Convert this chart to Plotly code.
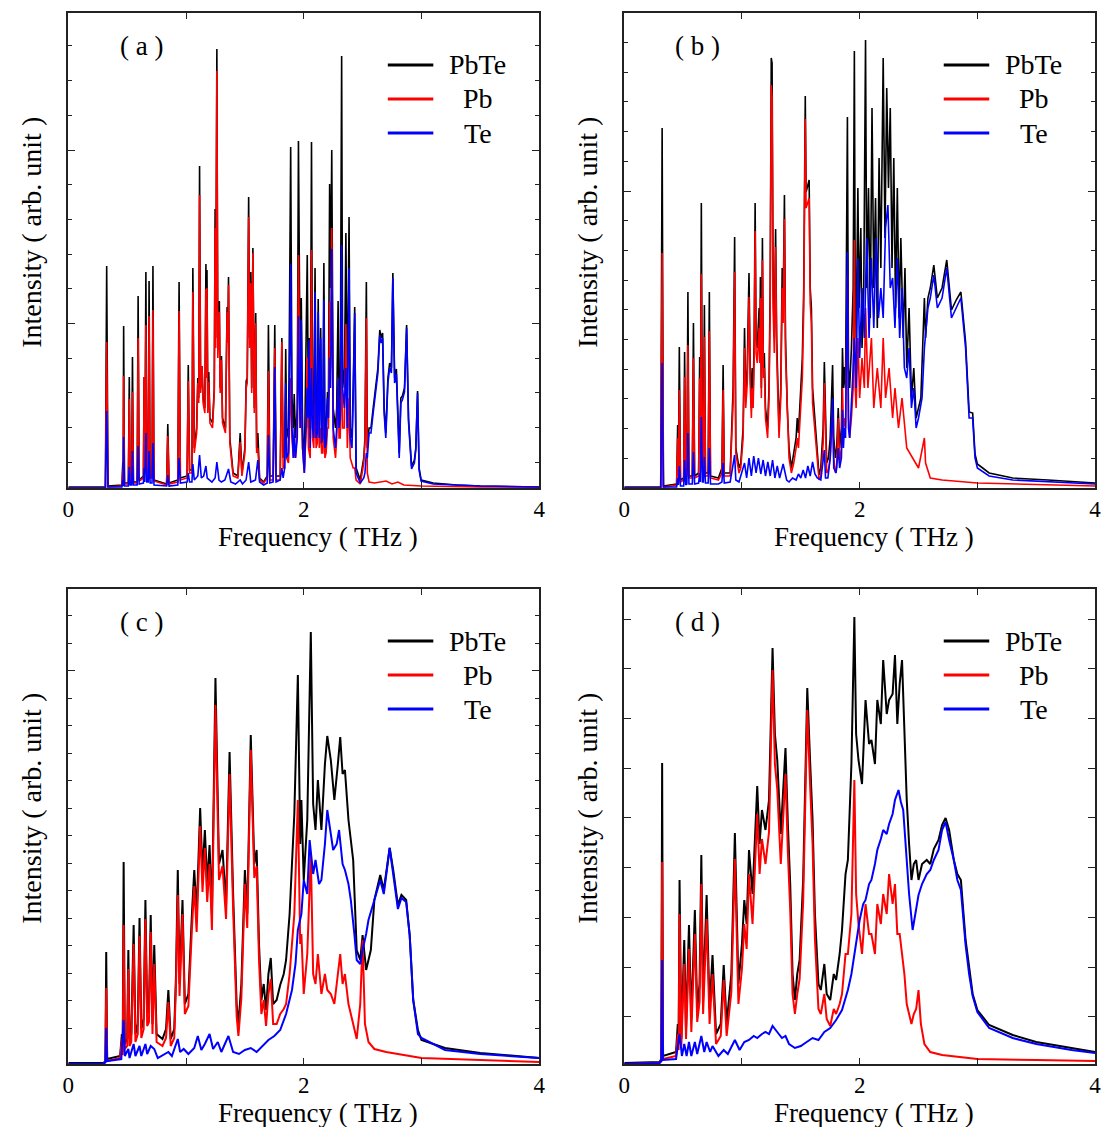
import plotly.graph_objects as go

W, H = 1108, 1127
SERIES = ["PbTe", "Pb", "Te"]
COLORS = ["#000000", "#ff0000", "#0000ff"]
PANELS = ["( a )", "( b )", "( c )", "( d )"]
X_TICKS = [0, 1, 2, 3, 4]
X_TICK_TEXT = ["0", "", "2", "", "4"]
X_TITLE = "Frequency ( THz )"
Y_TITLE = "Intensity ( arb. unit )"

# ---- panel (a): (frequency THz, intensity arb.) vertices
A_PBTE = [(0,1),(0.315,1),(0.326,222),(0.337,2),(0.455,3),(0.463,26),(0.466,5),(0.47,162),(0.477,5),(0.51,5),(0.518,111),(0.525,6),(0.538,8),(0.545,131),(0.553,6),(0.585,6),(0.593,192),(0.602,8),(0.638,12),(0.644,111),(0.65,20),(0.659,216),(0.667,15),(0.679,15),(0.686,207),(0.695,12),(0.711,12),(0.719,222),(0.728,8),(0.835,4),(0.845,64),(0.856,5),(0.93,8),(0.941,206),(0.952,10),(1.009,12),(1.019,123),(1.03,18),(1.05,18),(1.058,220),(1.07,40),(1.09,60),(1.1,110),(1.108,90),(1.115,322),(1.124,100),(1.136,122),(1.145,90),(1.16,80),(1.169,224),(1.174,120),(1.178,218),(1.185,80),(1.193,116),(1.203,70),(1.225,65),(1.24,100),(1.247,279),(1.252,150),(1.262,439),(1.27,140),(1.283,187),(1.29,100),(1.301,132),(1.31,70),(1.335,60),(1.349,181),(1.355,150),(1.361,211),(1.372,50),(1.4,15),(1.44,12),(1.46,55),(1.475,15),(1.5,40),(1.511,107),(1.52,110),(1.532,291),(1.54,150),(1.55,216),(1.558,100),(1.568,240),(1.58,80),(1.592,175),(1.6,40),(1.61,55),(1.625,10),(1.66,6),(1.69,12),(1.7,163),(1.712,12),(1.74,12),(1.754,163),(1.765,12),(1.8,12),(1.814,150),(1.825,30),(1.838,40),(1.847,139),(1.855,50),(1.87,60),(1.875,110),(1.889,341),(1.9,90),(1.912,60),(1.919,94),(1.93,50),(1.945,80),(1.955,347),(1.962,210),(1.97,100),(1.979,190),(1.99,60),(2.005,20),(2.021,171),(2.03,233),(2.04,60),(2.045,150),(2.055,50),(2.066,346),(2.075,80),(2.085,60),(2.096,220),(2.105,70),(2.115,70),(2.123,189),(2.132,60),(2.144,160),(2.152,60),(2.162,60),(2.171,225),(2.18,50),(2.19,60),(2.202,96),(2.21,90),(2.22,304),(2.228,200),(2.238,338),(2.25,80),(2.27,60),(2.28,80),(2.292,187),(2.3,80),(2.31,90),(2.322,432),(2.33,120),(2.345,100),(2.358,255),(2.37,80),(2.385,271),(2.395,60),(2.41,50),(2.42,100),(2.433,181),(2.445,20),(2.48,8),(2.51,30),(2.52,50),(2.532,206),(2.54,40),(2.555,60),(2.571,60),(2.59,80),(2.607,100),(2.63,120),(2.646,158),(2.658,150),(2.67,155),(2.683,80),(2.697,55),(2.715,110),(2.73,125),(2.745,120),(2.757,215),(2.772,110),(2.787,119),(2.8,70),(2.811,35),(2.825,90),(2.838,92),(2.856,100),(2.874,163),(2.89,70),(2.916,22),(2.94,28),(2.952,40),(2.967,97),(2.98,20),(2.997,8),(3.1,5),(3.3,3),(3.5,2),(4,1)]
A_PB = [(0,0),(0.315,0),(0.326,146),(0.337,1),(0.455,2),(0.463,18),(0.466,4),(0.47,112),(0.477,4),(0.51,4),(0.518,89),(0.525,5),(0.538,7),(0.545,96),(0.553,5),(0.585,5),(0.593,150),(0.602,7),(0.638,10),(0.644,111),(0.65,18),(0.659,163),(0.667,12),(0.679,12),(0.686,172),(0.695,10),(0.711,10),(0.719,178),(0.728,7),(0.835,3),(0.845,52),(0.856,4),(0.93,6),(0.941,177),(0.952,8),(1.009,10),(1.019,107),(1.03,15),(1.05,15),(1.058,196),(1.07,35),(1.09,55),(1.1,105),(1.108,85),(1.115,293),(1.124,95),(1.136,122),(1.145,85),(1.16,75),(1.169,199),(1.174,110),(1.178,200),(1.185,75),(1.193,106),(1.203,65),(1.225,60),(1.24,95),(1.247,260),(1.252,140),(1.262,417),(1.27,130),(1.283,176),(1.29,95),(1.301,128),(1.31,65),(1.335,55),(1.349,176),(1.355,145),(1.361,203),(1.372,45),(1.4,12),(1.44,10),(1.46,46),(1.475,12),(1.5,35),(1.511,100),(1.52,105),(1.532,271),(1.54,140),(1.55,205),(1.558,95),(1.568,235),(1.58,75),(1.592,165),(1.6,35),(1.61,40),(1.625,8),(1.66,5),(1.69,10),(1.7,117),(1.712,8),(1.74,8),(1.754,140),(1.765,8),(1.8,8),(1.814,146),(1.825,20),(1.838,20),(1.847,85),(1.855,30),(1.87,25),(1.875,40),(1.889,110),(1.9,50),(1.912,30),(1.919,40),(1.93,30),(1.945,60),(1.955,233),(1.962,150),(1.97,60),(1.979,80),(1.99,40),(2.005,15),(2.021,60),(2.03,130),(2.04,40),(2.055,30),(2.066,238),(2.075,50),(2.085,40),(2.096,100),(2.105,40),(2.115,45),(2.123,110),(2.132,40),(2.144,60),(2.152,35),(2.162,35),(2.171,80),(2.18,30),(2.19,35),(2.202,60),(2.21,60),(2.22,186),(2.228,120),(2.238,260),(2.25,50),(2.27,30),(2.28,50),(2.292,110),(2.3,50),(2.31,50),(2.322,130),(2.33,60),(2.345,60),(2.358,164),(2.37,40),(2.385,90),(2.395,30),(2.41,25),(2.42,20),(2.433,20),(2.445,8),(2.48,4),(2.51,25),(2.52,45),(2.532,170),(2.54,15),(2.555,6),(2.6,5),(2.7,7),(2.75,4),(2.8,6),(2.85,3),(3,2),(3.5,1),(4,1)]
A_TE = [(0,0),(0.315,0),(0.326,77),(0.337,1),(0.455,1),(0.463,8),(0.466,2),(0.47,51),(0.477,2),(0.51,2),(0.518,21),(0.525,3),(0.538,3),(0.545,37),(0.553,3),(0.585,3),(0.593,42),(0.602,4),(0.638,5),(0.644,20),(0.65,6),(0.659,55),(0.667,6),(0.679,6),(0.686,37),(0.695,5),(0.711,5),(0.719,45),(0.728,3),(0.835,2),(0.845,13),(0.856,2),(0.93,3),(0.941,30),(0.952,5),(1.009,6),(1.019,15),(1.03,6),(1.05,6),(1.058,24),(1.07,8),(1.1,12),(1.115,33),(1.13,10),(1.15,12),(1.169,22),(1.18,10),(1.2,8),(1.22,6),(1.247,10),(1.262,26),(1.28,8),(1.3,6),(1.33,8),(1.361,19),(1.38,6),(1.42,4),(1.46,8),(1.48,4),(1.51,8),(1.532,26),(1.55,6),(1.59,8),(1.61,28),(1.625,6),(1.66,3),(1.69,5),(1.7,53),(1.712,5),(1.74,6),(1.754,121),(1.765,6),(1.8,8),(1.814,20),(1.825,10),(1.838,20),(1.847,105),(1.855,30),(1.87,35),(1.875,60),(1.889,224),(1.9,60),(1.912,30),(1.919,60),(1.93,30),(1.945,50),(1.955,172),(1.962,100),(1.97,60),(1.979,168),(1.99,40),(2.005,15),(2.021,60),(2.03,100),(2.037,70),(2.045,148),(2.055,40),(2.066,120),(2.075,60),(2.085,50),(2.096,196),(2.105,50),(2.115,55),(2.123,176),(2.132,50),(2.144,150),(2.152,45),(2.162,50),(2.171,188),(2.18,40),(2.19,45),(2.202,90),(2.21,70),(2.22,130),(2.228,100),(2.238,239),(2.25,60),(2.27,40),(2.28,60),(2.292,110),(2.3,60),(2.31,70),(2.322,243),(2.33,100),(2.345,80),(2.358,120),(2.37,60),(2.385,220),(2.395,50),(2.41,40),(2.42,90),(2.433,175),(2.445,15),(2.48,5),(2.51,10),(2.52,15),(2.532,35),(2.54,30),(2.555,55),(2.571,55),(2.59,75),(2.607,95),(2.63,115),(2.646,153),(2.658,145),(2.67,150),(2.683,75),(2.697,50),(2.715,105),(2.73,120),(2.745,115),(2.757,210),(2.772,105),(2.787,114),(2.8,65),(2.811,30),(2.825,85),(2.838,88),(2.856,96),(2.874,160),(2.89,66),(2.916,19),(2.94,25),(2.952,38),(2.967,95),(2.98,18),(2.997,7),(3.1,4),(3.3,3),(3.5,2),(4,1)]

# ---- panel (b)
B_PBTE = [(0,1),(0.31,1),(0.322,360),(0.333,2),(0.445,4),(0.454,63),(0.46,15),(0.468,141),(0.478,8),(0.505,10),(0.513,136),(0.522,12),(0.532,15),(0.541,196),(0.55,12),(0.578,12),(0.588,165),(0.598,12),(0.632,15),(0.641,131),(0.647,40),(0.655,285),(0.665,20),(0.672,20),(0.681,183),(0.69,15),(0.713,15),(0.723,196),(0.733,12),(0.8,10),(0.83,20),(0.84,123),(0.85,15),(0.9,15),(0.925,100),(0.93,158),(0.938,251),(0.948,40),(0.975,20),(0.99,25),(1.01,60),(1.022,160),(1.032,90),(1.045,120),(1.06,215),(1.07,120),(1.08,80),(1.087,120),(1.095,90),(1.104,150),(1.112,285),(1.12,150),(1.13,140),(1.146,180),(1.152,140),(1.157,211),(1.165,100),(1.174,250),(1.182,120),(1.19,135),(1.2,80),(1.218,60),(1.23,100),(1.24,200),(1.249,430),(1.256,425),(1.265,200),(1.275,150),(1.286,259),(1.295,150),(1.305,90),(1.315,60),(1.33,100),(1.342,220),(1.35,180),(1.361,293),(1.37,150),(1.385,80),(1.4,40),(1.42,20),(1.44,35),(1.46,50),(1.47,70),(1.48,55),(1.5,100),(1.513,130),(1.525,200),(1.538,392),(1.545,296),(1.555,300),(1.571,308),(1.58,200),(1.59,180),(1.6,100),(1.625,60),(1.64,30),(1.655,13),(1.67,20),(1.69,60),(1.7,126),(1.71,60),(1.72,25),(1.735,30),(1.75,50),(1.77,123),(1.78,50),(1.795,30),(1.805,40),(1.818,80),(1.83,40),(1.845,60),(1.854,140),(1.862,100),(1.87,121),(1.88,100),(1.896,371),(1.905,120),(1.915,100),(1.93,140),(1.945,200),(1.955,437),(1.962,200),(1.97,150),(1.985,300),(1.995,180),(2.01,260),(2.02,140),(2.035,200),(2.05,448),(2.06,200),(2.075,300),(2.09,170),(2.105,380),(2.12,200),(2.135,290),(2.15,160),(2.165,330),(2.18,220),(2.2,430),(2.215,250),(2.23,400),(2.245,300),(2.26,380),(2.275,220),(2.29,330),(2.305,180),(2.32,300),(2.335,170),(2.35,250),(2.37,150),(2.385,220),(2.4,120),(2.42,180),(2.44,90),(2.46,120),(2.48,70),(2.5,80),(2.52,90),(2.55,190),(2.56,150),(2.58,190),(2.6,200),(2.63,223),(2.66,190),(2.7,200),(2.74,228),(2.78,178),(2.82,188),(2.86,196),(2.9,146),(2.93,76),(2.96,75),(2.98,34),(3,24),(3.1,15),(3.3,10),(3.6,8),(4,5)]
B_PB = [(0,0),(0.31,0),(0.322,235),(0.333,1),(0.445,3),(0.454,50),(0.46,12),(0.468,98),(0.478,6),(0.505,8),(0.513,111),(0.522,10),(0.532,12),(0.541,143),(0.55,10),(0.578,10),(0.588,130),(0.598,10),(0.632,12),(0.641,110),(0.647,35),(0.655,214),(0.665,16),(0.672,16),(0.681,151),(0.69,12),(0.713,12),(0.723,157),(0.733,10),(0.8,8),(0.83,15),(0.84,98),(0.85,12),(0.9,12),(0.925,85),(0.93,130),(0.938,216),(0.948,35),(0.975,15),(0.99,20),(1.01,50),(1.022,140),(1.032,80),(1.045,105),(1.06,191),(1.07,105),(1.08,70),(1.087,100),(1.095,80),(1.104,130),(1.112,257),(1.12,135),(1.13,125),(1.146,160),(1.152,125),(1.157,190),(1.165,90),(1.174,228),(1.182,110),(1.19,120),(1.2,70),(1.218,50),(1.23,90),(1.24,180),(1.249,403),(1.256,390),(1.265,180),(1.275,135),(1.286,241),(1.295,135),(1.305,80),(1.315,50),(1.33,90),(1.342,200),(1.35,165),(1.361,269),(1.37,135),(1.385,70),(1.4,30),(1.42,15),(1.44,25),(1.46,40),(1.47,50),(1.48,40),(1.5,85),(1.513,110),(1.525,180),(1.538,369),(1.545,280),(1.555,285),(1.571,290),(1.58,185),(1.59,165),(1.6,85),(1.625,50),(1.64,22),(1.655,8),(1.67,12),(1.69,45),(1.7,105),(1.71,45),(1.72,15),(1.735,18),(1.75,30),(1.77,75),(1.78,30),(1.795,15),(1.805,20),(1.818,70),(1.83,25),(1.845,40),(1.854,100),(1.862,60),(1.87,70),(1.88,60),(1.896,213),(1.905,70),(1.915,50),(1.93,70),(1.945,100),(1.955,248),(1.962,100),(1.97,80),(1.985,150),(2,90),(2.02,130),(2.04,100),(2.05,180),(2.07,100),(2.1,150),(2.12,80),(2.15,120),(2.18,80),(2.2,150),(2.22,90),(2.25,120),(2.28,70),(2.3,100),(2.33,60),(2.36,90),(2.4,40),(2.45,30),(2.5,20),(2.55,50),(2.56,25),(2.6,10),(2.7,8),(3,5),(4,2)]
B_TE = [(0,0),(0.31,0),(0.322,125),(0.333,1),(0.445,1),(0.454,10),(0.46,3),(0.468,22),(0.478,2),(0.505,2),(0.513,28),(0.522,3),(0.532,4),(0.541,55),(0.55,4),(0.578,4),(0.588,36),(0.598,4),(0.632,5),(0.641,15),(0.647,6),(0.655,71),(0.665,6),(0.672,6),(0.681,31),(0.69,5),(0.713,5),(0.723,40),(0.733,4),(0.8,4),(0.83,6),(0.84,25),(0.85,5),(0.9,6),(0.938,33),(0.948,8),(0.975,6),(1.022,25),(1.04,10),(1.06,30),(1.08,12),(1.1,32),(1.12,15),(1.14,30),(1.16,14),(1.18,28),(1.2,12),(1.22,26),(1.24,12),(1.26,28),(1.28,10),(1.3,22),(1.32,10),(1.35,24),(1.38,8),(1.4,6),(1.43,10),(1.46,8),(1.48,14),(1.5,10),(1.52,18),(1.54,10),(1.56,22),(1.58,12),(1.6,26),(1.62,14),(1.64,10),(1.67,8),(1.7,38),(1.71,10),(1.73,10),(1.75,30),(1.77,90),(1.78,20),(1.8,15),(1.818,40),(1.83,20),(1.845,30),(1.854,78),(1.862,40),(1.87,60),(1.88,50),(1.896,236),(1.905,60),(1.915,50),(1.93,80),(1.945,120),(1.955,150),(1.97,100),(1.985,230),(2,130),(2.02,200),(2.04,150),(2.06,250),(2.08,150),(2.1,230),(2.12,160),(2.14,250),(2.16,170),(2.18,200),(2.2,170),(2.22,260),(2.24,283),(2.26,200),(2.28,210),(2.3,160),(2.32,230),(2.34,150),(2.36,200),(2.38,120),(2.4,110),(2.42,140),(2.44,80),(2.46,100),(2.48,60),(2.5,70),(2.53,90),(2.55,140),(2.58,180),(2.6,190),(2.63,213),(2.66,180),(2.7,190),(2.74,220),(2.78,170),(2.82,180),(2.86,190),(2.9,140),(2.93,70),(2.96,70),(2.98,30),(3,20),(3.1,12),(3.3,8),(3.6,6),(4,4)]

# ---- panel (c)
C_PBTE = [(0,1),(0.3,1),(0.315,3),(0.322,112),(0.33,5),(0.44,8),(0.455,30),(0.462,12),(0.47,202),(0.48,20),(0.5,25),(0.51,114),(0.52,25),(0.535,30),(0.555,139),(0.57,30),(0.59,40),(0.605,146),(0.62,35),(0.64,45),(0.655,164),(0.67,50),(0.685,55),(0.7,149),(0.715,40),(0.73,119),(0.75,30),(0.8,25),(0.83,35),(0.85,74),(0.87,25),(0.9,35),(0.915,90),(0.93,194),(0.945,80),(0.97,164),(0.99,60),(1.02,70),(1.05,150),(1.07,194),(1.09,150),(1.12,256),(1.14,190),(1.16,234),(1.18,180),(1.2,219),(1.22,150),(1.25,386),(1.28,200),(1.31,214),(1.34,160),(1.37,312),(1.4,170),(1.43,60),(1.445,39),(1.47,80),(1.5,194),(1.52,150),(1.55,329),(1.58,200),(1.6,214),(1.62,120),(1.64,64),(1.66,80),(1.68,54),(1.7,90),(1.72,106),(1.74,60),(1.77,64),(1.8,79),(1.83,90),(1.85,104),(1.88,150),(1.9,194),(1.92,250),(1.95,389),(1.97,220),(1.98,264),(2,184),(2.03,244),(2.06,432),(2.08,260),(2.1,234),(2.12,284),(2.15,234),(2.18,300),(2.2,328),(2.23,304),(2.26,264),(2.29,300),(2.31,327),(2.33,290),(2.35,294),(2.38,244),(2.42,204),(2.45,114),(2.48,104),(2.5,129),(2.53,94),(2.57,114),(2.6,164),(2.65,189),(2.68,174),(2.73,216),(2.76,194),(2.8,159),(2.83,169),(2.87,164),(2.9,129),(2.93,64),(2.97,34),(3,24),(3.2,16),(3.5,11),(4,6)]
C_PB = [(0,0),(0.3,0),(0.315,2),(0.322,76),(0.33,3),(0.44,6),(0.455,25),(0.462,9),(0.47,139),(0.48,15),(0.5,18),(0.51,95),(0.52,18),(0.535,22),(0.555,120),(0.57,22),(0.59,30),(0.605,128),(0.62,26),(0.64,35),(0.655,145),(0.67,38),(0.685,42),(0.7,132),(0.715,30),(0.73,100),(0.75,22),(0.8,18),(0.83,26),(0.85,62),(0.87,18),(0.9,26),(0.915,80),(0.93,169),(0.945,68),(0.97,150),(0.99,50),(1.02,58),(1.05,135),(1.07,178),(1.09,132),(1.12,238),(1.14,172),(1.16,216),(1.18,162),(1.2,200),(1.22,134),(1.25,359),(1.28,184),(1.31,198),(1.34,145),(1.37,290),(1.4,155),(1.43,48),(1.445,28),(1.47,66),(1.5,180),(1.52,136),(1.55,314),(1.58,186),(1.6,198),(1.62,104),(1.64,50),(1.66,64),(1.68,38),(1.7,70),(1.72,85),(1.74,40),(1.77,40),(1.8,50),(1.83,55),(1.85,60),(1.88,90),(1.9,120),(1.92,150),(1.95,264),(1.97,120),(1.98,130),(2,70),(2.03,110),(2.06,210),(2.08,90),(2.1,80),(2.12,110),(2.15,70),(2.18,90),(2.2,74),(2.23,70),(2.26,60),(2.29,90),(2.31,110),(2.33,80),(2.35,90),(2.38,60),(2.42,40),(2.45,25),(2.48,60),(2.5,124),(2.52,40),(2.55,22),(2.6,15),(2.7,12),(2.9,8),(3,6),(3.5,4),(4,2)]
C_TE = [(0,0),(0.3,0),(0.315,2),(0.322,36),(0.33,3),(0.45,5),(0.47,44),(0.48,8),(0.51,15),(0.52,6),(0.555,20),(0.57,8),(0.605,18),(0.62,8),(0.655,20),(0.67,10),(0.7,18),(0.73,15),(0.76,6),(0.85,12),(0.88,8),(0.93,25),(0.95,12),(0.98,15),(1.02,10),(1.07,16),(1.1,28),(1.13,14),(1.16,20),(1.2,30),(1.23,15),(1.27,22),(1.3,12),(1.36,28),(1.4,12),(1.45,10),(1.5,14),(1.55,16),(1.6,12),(1.65,18),(1.7,24),(1.75,28),(1.8,34),(1.85,50),(1.9,74),(1.93,100),(1.95,134),(1.98,150),(2,184),(2.03,170),(2.05,224),(2.08,190),(2.1,204),(2.13,180),(2.15,184),(2.18,220),(2.2,254),(2.23,230),(2.25,214),(2.28,220),(2.3,234),(2.33,200),(2.35,194),(2.38,180),(2.4,164),(2.43,130),(2.45,104),(2.48,100),(2.5,114),(2.53,130),(2.55,144),(2.6,164),(2.65,184),(2.68,170),(2.73,216),(2.76,190),(2.8,155),(2.83,166),(2.87,162),(2.9,129),(2.93,64),(2.97,30),(3,26),(3.2,14),(3.5,10),(4,6)]

# ---- panel (d)
D_PBTE = [(0,1),(0.3,2),(0.315,5),(0.322,301),(0.33,8),(0.44,12),(0.455,40),(0.462,20),(0.47,184),(0.485,25),(0.51,124),(0.525,35),(0.55,139),(0.57,45),(0.6,154),(0.62,55),(0.64,80),(0.655,209),(0.67,65),(0.7,169),(0.725,55),(0.75,109),(0.78,30),(0.82,40),(0.845,99),(0.87,40),(0.91,90),(0.94,231),(0.97,80),(1,120),(1.02,164),(1.04,140),(1.06,214),(1.09,170),(1.13,278),(1.15,220),(1.17,254),(1.2,234),(1.23,264),(1.26,416),(1.28,330),(1.3,304),(1.33,230),(1.37,316),(1.39,240),(1.41,180),(1.43,90),(1.45,64),(1.47,90),(1.49,104),(1.52,184),(1.555,376),(1.58,300),(1.6,244),(1.62,150),(1.65,80),(1.67,74),(1.7,100),(1.72,70),(1.75,64),(1.78,90),(1.8,84),(1.83,110),(1.85,134),(1.88,190),(1.9,204),(1.93,300),(1.955,447),(1.97,330),(1.99,304),(2.02,280),(2.05,364),(2.08,320),(2.1,324),(2.13,300),(2.15,364),(2.18,340),(2.2,404),(2.23,350),(2.25,364),(2.28,370),(2.3,409),(2.32,340),(2.34,380),(2.36,404),(2.38,330),(2.4,264),(2.42,220),(2.44,184),(2.46,200),(2.48,204),(2.5,184),(2.53,200),(2.57,204),(2.6,200),(2.63,215),(2.67,224),(2.7,239),(2.73,246),(2.76,234),(2.8,204),(2.83,190),(2.86,184),(2.9,124),(2.93,94),(2.96,70),(3,54),(3.1,39),(3.3,29),(3.5,22),(3.8,16),(4,12)]
D_PB = [(0,0),(0.3,1),(0.315,3),(0.322,202),(0.33,5),(0.44,8),(0.455,30),(0.462,14),(0.47,150),(0.485,18),(0.51,100),(0.525,25),(0.55,115),(0.57,32),(0.6,130),(0.62,42),(0.64,62),(0.655,180),(0.67,50),(0.7,145),(0.725,40),(0.75,90),(0.78,20),(0.82,28),(0.845,84),(0.87,28),(0.91,72),(0.94,205),(0.97,60),(1,95),(1.02,140),(1.04,115),(1.06,190),(1.09,140),(1.13,250),(1.15,190),(1.17,225),(1.2,200),(1.23,232),(1.26,394),(1.28,300),(1.3,275),(1.33,200),(1.37,290),(1.39,212),(1.41,155),(1.43,70),(1.45,50),(1.47,70),(1.49,85),(1.52,162),(1.555,354),(1.58,276),(1.6,220),(1.62,125),(1.65,55),(1.67,50),(1.7,70),(1.72,45),(1.75,38),(1.78,55),(1.8,50),(1.83,60),(1.85,70),(1.88,110),(1.9,110),(1.93,150),(1.955,284),(1.97,170),(1.99,140),(2.02,110),(2.05,160),(2.08,130),(2.1,130),(2.13,110),(2.15,160),(2.18,140),(2.2,170),(2.23,150),(2.25,190),(2.28,160),(2.3,180),(2.32,130),(2.34,130),(2.36,110),(2.38,90),(2.4,60),(2.42,50),(2.44,40),(2.46,50),(2.48,55),(2.5,74),(2.52,40),(2.55,20),(2.6,12),(2.7,9),(2.9,6),(3,5),(3.5,4),(4,3)]
D_TE = [(0,0),(0.3,1),(0.315,3),(0.322,104),(0.33,4),(0.44,5),(0.47,30),(0.49,8),(0.51,20),(0.53,8),(0.55,22),(0.57,8),(0.6,22),(0.62,10),(0.655,28),(0.68,12),(0.7,22),(0.73,12),(0.75,18),(0.8,8),(0.845,14),(0.88,10),(0.94,24),(0.98,14),(1.02,22),(1.06,24),(1.1,28),(1.13,26),(1.17,30),(1.2,32),(1.23,30),(1.26,38),(1.3,32),(1.34,26),(1.37,28),(1.4,20),(1.45,16),(1.5,18),(1.55,22),(1.6,26),(1.65,24),(1.7,32),(1.75,36),(1.8,44),(1.85,54),(1.9,74),(1.93,90),(1.955,110),(1.98,130),(2,144),(2.03,160),(2.05,164),(2.08,180),(2.1,184),(2.13,200),(2.15,214),(2.18,225),(2.2,234),(2.23,230),(2.25,240),(2.28,250),(2.3,264),(2.33,274),(2.35,262),(2.37,254),(2.4,204),(2.42,170),(2.45,134),(2.47,150),(2.5,169),(2.53,180),(2.57,190),(2.6,194),(2.63,204),(2.67,214),(2.7,234),(2.73,242),(2.76,224),(2.8,204),(2.83,184),(2.86,174),(2.9,119),(2.93,90),(2.96,68),(3,52),(3.1,36),(3.3,26),(3.5,20),(3.8,14),(4,11)]

PANEL_DATA = [(A_PBTE, A_PB, A_TE), (B_PBTE, B_PB, B_TE), (C_PBTE, C_PB, C_TE), (D_PBTE, D_PB, D_TE)]

# layout geometry (pixels in the 1108x1127 page)
BOX = [(63, 539, 13, 488), (625, 1101, 13, 488), (63, 539, 589, 1064), (625, 1101, 589, 1064)]
Y_MINOR = [[25.7 + 34.7 * k for k in range(13)],
           [29.7 * k for k in range(1, 16)],
           [35.7 + 27.5 * k for k in range(16)],
           []]
Y_MAJOR = [[164.5, 338.0], [297.0], [393.2], [47.3 + 49.7 * k for k in range(9)]]
LINE_W = [1.6, 1.6, 2.0, 2.0]

FONT = "Liberation Serif"

def px(x):
    return x / W

def py(y):
    return 1 - y / H

fig = go.Figure()
annotations = []
shapes = []
for i, (data, (x0, x1, y0, y1)) in enumerate(zip(PANEL_DATA, BOX)):
    sfx = "" if i == 0 else str(i + 1)
    for series, name, color in zip(data, SERIES, COLORS):
        fig.add_trace(go.Scatter(
            x=[p[0] for p in series], y=[p[1] for p in series], mode="lines",
            line=dict(color=color, width=LINE_W[i]), name=name, showlegend=False,
            xaxis="x" + sfx, yaxis="y" + sfx, hoverinfo="skip"))
    xa = dict(domain=[px(x0), px(x1)], range=[0, 4], anchor="y" + sfx,
              tickmode="array", tickvals=X_TICKS, ticktext=X_TICK_TEXT,
              ticks="inside", ticklen=6, tickwidth=1.2, tickcolor="#222",
              showline=True, linecolor="#222", linewidth=1.5, mirror="ticks",
              showgrid=False, zeroline=False,
              tickfont=dict(family=FONT, size=23, color="black"))
    ya = dict(domain=[py(y1), py(y0)], range=[0, 475], anchor="x" + sfx,
              tickmode="array", tickvals=Y_MAJOR[i], showticklabels=False,
              ticks="inside", ticklen=7, tickwidth=1.2, tickcolor="#222",
              showline=True, linecolor="#222", linewidth=1.5, mirror="ticks",
              showgrid=False, zeroline=False,
              minor=dict(tickmode="array", tickvals=Y_MINOR[i], ticks="inside",
                         ticklen=4, tickwidth=1.2, tickcolor="#222", showgrid=False))
    fig.layout["xaxis" + sfx] = xa
    fig.layout["yaxis" + sfx] = ya

    # axis titles
    annotations.append(dict(x=px(x0 + 252), y=py(y1 + 49), xref="paper", yref="paper",
                            text=X_TITLE, showarrow=False,
                            font=dict(family=FONT, size=27, color="black"),
                            xanchor="center", yanchor="middle"))
    annotations.append(dict(x=px(x0 - 38), y=py(y0 + 219), xref="paper", yref="paper",
                            text=Y_TITLE, showarrow=False, textangle=-90,
                            font=dict(family=FONT, size=28, color="black"),
                            xanchor="center", yanchor="middle"))
    # panel label
    annotations.append(dict(x=px(x0 + 74), y=py(y0 + 33), xref="paper", yref="paper",
                            text=PANELS[i], showarrow=False,
                            font=dict(family=FONT, size=27, color="black"),
                            xanchor="center", yanchor="middle"))
    # legend
    for k, (name, color) in enumerate(zip(SERIES, COLORS)):
        yy = y0 + 52 + 34 * k
        shapes.append(dict(type="line", xref="paper", yref="paper",
                           x0=px(x0 + 323), x1=px(x0 + 369), y0=py(yy), y1=py(yy),
                           line=dict(color=color, width=2.8)))
        annotations.append(dict(x=px(x0 + 414), y=py(yy), xref="paper", yref="paper",
                                text=name, showarrow=False,
                                font=dict(family=FONT, size=28, color="black"),
                                xanchor="center", yanchor="middle"))

fig.update_layout(width=W, height=H, margin=dict(l=0, r=0, t=0, b=0),
                  paper_bgcolor="white", plot_bgcolor="white",
                  font=dict(family=FONT, color="black"),
                  annotations=annotations, shapes=shapes, showlegend=False)
fig.write_html("out.html")
